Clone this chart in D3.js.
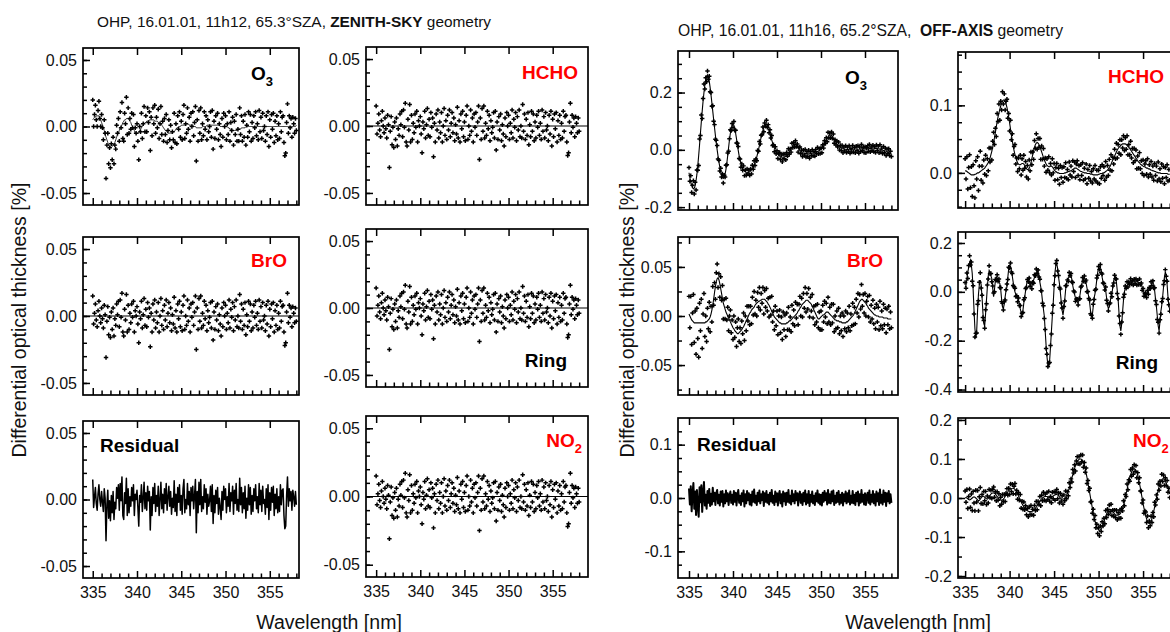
<!DOCTYPE html>
<html><head><meta charset="utf-8">
<script src="https://cdn.jsdelivr.net/npm/d3@7"></script>
<style>
body{margin:0;background:#fff;}
svg{display:block;font-family:"Liberation Sans",Arial,Helvetica,sans-serif;}
</style></head><body>
<svg id="c" width="1170" height="632"></svg>
<script>
// ---------------- DATA ----------------
// Spectral grid: 335.0 nm to 358.0 nm, step 0.1 nm (231 samples)
const WL0 = 335.0, WL_STEP = 0.1, N = 231;
// All spectra below are in thousandths of a percent (divide by SCALE for %)
const SCALE = 1000;

const xMajorTicks = [335, 340, 345, 350, 355];
const xTickLabels = ["335", "340", "345", "350", "355"];
const xMinorTicks = [336,337,338,339,341,342,343,344,346,347,348,349,351,352,353,354,356,357,358];

// ZENITH-SKY fit residual
const zenResidual = [
 15,-6,2,9,-3,-8,4,11,0,-5,
 6,-2,-9,8,1,-31,-4,7,-14,-1,
 -16,3,-10,6,-15,-2,-7,9,1,11,
 -8,12,-1,17,-12,-15,5,-3,16,-12,
 8,-10,2,-5,9,-1,11,-12,4,0,
 7,-6,-20,3,-2,11,-9,1,13,-7,
 5,-8,10,-1,6,-23,2,-12,9,-3,
 12,-9,3,-5,10,-12,0,13,-7,4,
 -10,8,-3,12,-8,2,10,-5,6,-11,
 1,-6,14,-9,4,-12,9,-2,11,-8,
 3,-11,8,15,-10,0,-7,12,-4,6,
 -12,9,-1,10,-7,3,15,-25,6,-10,
 13,-4,15,-9,2,-7,11,-2,8,-11,
 4,-5,-1,10,-9,11,-18,3,-10,7,
 -3,9,-11,1,-6,-15,6,-8,10,0,
 8,-10,2,-5,12,-9,5,-1,10,-11,
 7,-3,12,-8,0,-9,16,-4,9,-10,
 5,-7,10,-14,1,-8,11,-4,9,-11,
 3,-9,8,-1,11,-7,2,-10,12,-4,
 7,-9,10,-3,0,-11,8,-6,11,-15,
 5,-8,9,-2,10,-12,4,-7,8,-10,
 2,-9,11,-4,7,8,-12,-22,-20,3,
 17,-5,8,-1,6,-8,7,2,-5,6,
 -4];

// ZENITH-SKY fitted O3 contribution
const zenFitO3 = [
 5,6,7,7,8,8,8,8,6,5,
 3,1,-1,-3,-6,-8,-10,-12,-14,-15,
 -15,-16,-15,-14,-13,-12,-10,-8,-6,-5,
 -3,-1,0,1,3,4,5,5,6,6,
 6,5,4,3,1,0,-2,-3,-5,-5,
 -5,-5,-5,-3,-2,-1,0,1,2,3,
 3,4,4,4,5,5,5,5,5,5,
 4,4,4,4,3,3,2,2,1,0,
 -1,-2,-3,-3,-4,-5,-5,-5,-5,-5,
 -5,-4,-4,-3,-2,-1,-1,0,0,0,
 1,1,1,1,1,2,2,2,2,1,
 1,1,1,1,0,0,0,-1,-1,-1,
 -1,-1,-1,-1,0,0,0,0,0,1,
 1,1,1,1,1,1,1,1,1,1,
 1,1,1,1,0,0,0,0,0,0,
 0,0,0,-1,-1,-2,-2,-2,-3,-3,
 -3,-3,-3,-3,-2,-2,-2,-2,-1,-1,
 -1,-1,-1,0,0,0,0,0,0,0,
 0,0,0,0,0,0,0,0,0,0,
 0,0,0,0,0,0,0,0,0,0,
 0,0,0,0,0,0,0,0,0,0,
 0,0,0,0,0,0,0,0,0,0,
 0,0,0,0,0,0,0,0,0,0,
 1];

// ZENITH-SKY fitted HCHO / BrO / Ring / NO2 contributions (flat at zero)
const zenFlatWl = [333, 360];
const zenFlatFit = [0, 0];

// OFF-AXIS fit residual
const offResidual = [
 18,-12,22,-25,8,28,-20,12,-32,15,
 -16,-35,20,-8,24,-26,9,30,-14,6,
 -20,13,-9,17,-15,8,-12,19,-6,10,
 -13,9,15,-10,6,-14,12,-7,13,-16,
 7,-10,14,-6,9,-13,4,12,-9,6,
 -12,13,-7,10,-14,6,15,-9,4,-13,
 9,-6,14,-16,7,-10,13,-4,9,-12,
 6,-14,12,-7,16,-9,4,-13,10,-6,
 14,-10,7,-4,12,-15,9,-7,13,-9,
 6,-12,10,-6,15,-9,4,-13,12,-7,
 9,-14,6,13,-10,7,-16,12,-6,9,
 -13,10,-7,15,-9,4,-12,14,-6,7,
 -10,13,-4,9,-14,6,12,-9,7,-13,
 10,-6,14,-12,7,-9,13,-15,6,-7,
 12,-10,4,-13,9,-6,14,-9,7,-12,
 6,-14,10,-7,13,-4,9,-12,15,-9,
 7,-10,12,-6,14,-13,4,-9,10,-7,
 13,-12,6,-9,10,-14,7,-6,12,-10,
 9,-7,14,-12,4,-9,13,-10,6,-13,
 10,-6,12,-14,7,-9,15,-7,6,-12,
 9,-13,4,10,-9,14,-12,6,-7,13,
 -10,7,-14,12,-6,9,-13,16,-9,6,
 -12,14,-7,10,-15,9,-6,13,-10,7,
 -9];

// OFF-AXIS fitted contributions
const offFitO3 = [
 -80,-98,-112,-124,-132,-136,-134,-125,-108,-85,
 -55,-20,18,58,98,135,170,200,226,246,
 258,262,255,240,218,192,164,135,106,78,
 50,24,0,-22,-42,-60,-76,-88,-97,-100,
 -96,-85,-68,-46,-20,8,35,58,76,86,
 90,86,75,58,38,17,-3,-21,-36,-48,
 -58,-65,-70,-74,-77,-79,-80,-80,-79,-77,
 -73,-70,-66,-61,-54,-46,-36,-25,-12,1,
 15,30,44,57,68,78,85,89,90,88,
 82,72,60,47,35,24,14,6,-1,-7,
 -12,-16,-19,-22,-24,-25,-26,-26,-25,-24,
 -22,-19,-15,-11,-6,-1,4,9,14,18,
 20,19,16,11,6,2,-2,-5,-8,-10,
 -11,-12,-13,-13,-14,-14,-14,-14,-13,-13,
 -12,-11,-10,-9,-8,-7,-6,-5,-3,-1,
 1,4,8,13,19,26,33,40,46,50,
 52,52,50,46,41,36,31,26,21,17,
 14,11,9,7,5,4,3,2,2,1,
 1,1,0,0,1,1,2,2,2,3,
 3,3,2,2,3,3,4,4,3,3,
 2,3,3,4,4,5,5,4,4,3,
 4,4,5,5,4,4,3,2,1,0,
 -1,-2,-3,-4,-5,-6,-8,-9,-10,-12,
 -14];

const offFitHCHO = [
 3,3,2,1,0,-1,-2,-3,-3,-3,
 -3,-2,-2,-1,0,0,1,2,3,4,
 5,6,7,9,11,13,15,18,22,27,
 32,38,45,52,60,68,76,83,89,94,
 99,103,106,108,108,106,102,97,90,82,
 74,65,56,48,40,33,27,22,18,15,
 13,12,12,13,14,14,13,11,8,6,
 5,5,7,10,15,21,27,33,38,42,
 44,45,44,42,39,35,31,27,23,19,
 16,13,11,10,9,9,10,10,9,7,
 5,3,2,1,0,0,-1,-1,-1,-1,
 -1,-1,0,0,1,1,2,2,3,3,
 4,5,6,7,7,7,6,5,4,3,
 2,2,1,1,0,0,0,-1,-1,-1,
 -1,-2,-2,-2,-3,-3,-3,-3,-3,-3,
 -2,-2,-1,-1,-1,0,0,1,2,3,
 4,6,8,10,13,16,19,22,25,28,
 31,34,36,38,39,41,42,43,43,43,
 43,42,41,39,38,36,34,32,30,28,
 26,24,22,20,18,16,15,13,12,11,
 10,9,9,8,7,7,6,6,5,4,
 4,3,3,2,2,1,1,0,0,0,
 -1,-1,-1,-1,-1,-1,-1,-1,-2,-2,
 -2];

const offFitBrO = [
 2,0,-2,-4,-5,-6,-7,-7,-7,-7,
 -7,-7,-7,-7,-7,-7,-7,-7,-7,-6,
 -6,-5,-4,-3,-1,2,6,11,17,24,
 30,35,38,39,37,33,28,23,18,13,
 10,7,4,2,0,-2,-4,-6,-8,-10,
 -12,-13,-15,-16,-17,-18,-18,-17,-16,-15,
 -14,-12,-11,-9,-7,-5,-3,-1,1,3,
 4,6,7,8,9,11,12,13,14,15,
 15,16,16,17,17,17,17,16,15,14,
 12,11,9,7,5,3,1,-1,-2,-3,
 -4,-5,-6,-7,-7,-8,-8,-8,-8,-8,
 -8,-7,-7,-6,-5,-5,-4,-3,-2,-1,
 0,1,2,3,5,6,8,9,11,12,
 13,14,15,16,16,16,15,14,13,12,
 10,8,6,4,2,0,-2,-3,-3,-2,
 -1,0,1,1,2,3,4,4,4,3,
 2,1,0,-1,-2,-3,-4,-4,-5,-5,
 -5,-6,-6,-6,-7,-7,-7,-7,-7,-6,
 -6,-5,-4,-3,-2,-1,0,1,3,5,
 7,9,11,13,15,16,17,17,16,15,
 14,13,11,10,8,7,6,5,4,3,
 2,1,1,0,0,0,-1,-1,-1,-1,
 -1,-2,-2,-2,-2,-2,-3,-3,-3,-3,
 -3];

const offFitRing = [
 20,27,55,80,100,120,130,110,75,10,
 -75,-150,-190,-160,-75,-10,30,48,30,-20,
 -85,-130,-140,-90,-34,20,65,88,80,65,
 54,15,-20,10,45,61,58,50,40,34,
 10,-30,-61,-68,-50,-20,5,20,60,95,
 109,105,88,65,40,15,0,-10,-20,-28,
 -34,-50,-70,-85,-95,-75,-45,-20,5,30,
 45,55,45,30,20,22,35,48,60,72,
 80,85,82,65,40,20,-5,-40,-70,-100,
 -160,-220,-265,-300,-306,-280,-224,-160,-100,-48,
 20,80,110,115,95,60,34,0,-40,-75,
 -95,-70,-30,10,35,45,55,65,72,68,
 50,25,7,-10,-25,-35,-42,-45,-35,-15,
 10,30,45,55,58,50,35,15,-5,-20,
 -45,-80,-100,-95,-60,-25,-7,20,50,80,
 98,105,102,85,60,40,25,20,5,-25,
 -55,-68,-62,-40,-20,-7,20,45,58,61,
 40,5,-34,-90,-140,-160,-130,-80,-34,0,
 15,22,27,32,36,40,41,42,40,41,
 42,40,41,42,40,39,38,37,30,18,
 5,-5,-12,-15,-14,-8,2,12,20,28,
 35,38,30,5,-30,-61,-100,-140,-160,-120,
 -80,-55,-20,20,60,82,70,30,-20,-60,
 -70];

const offFitNO2 = [
 0,1,0,-2,-4,-5,-4,-2,0,2,
 3,2,0,-2,-5,-7,-6,-3,0,3,
 5,4,2,0,-2,-3,-1,3,7,10,
 12,13,13,12,10,7,4,1,-2,-4,
 -5,-6,-5,-3,0,4,8,12,16,19,
 21,23,24,25,25,24,22,19,15,10,
 5,0,-5,-10,-15,-19,-23,-26,-29,-31,
 -33,-34,-35,-35,-35,-34,-33,-31,-29,-26,
 -23,-20,-16,-12,-8,-5,-2,0,2,3,
 4,4,4,3,2,1,0,1,3,5,
 7,8,9,9,8,6,3,0,-2,-3,
 -3,-2,0,3,7,12,18,25,33,42,
 51,60,68,76,83,89,94,97,99,100,
 100,99,96,91,84,75,64,52,39,26,
 13,0,-13,-26,-38,-49,-59,-67,-74,-79,
 -82,-83,-82,-79,-74,-68,-61,-54,-47,-41,
 -36,-32,-30,-29,-30,-32,-35,-38,-41,-43,
 -44,-44,-44,-43,-41,-38,-33,-27,-19,-10,
 0,11,22,33,43,52,60,66,71,74,
 75,74,71,66,58,48,37,25,12,-1,
 -14,-26,-37,-46,-54,-60,-64,-65,-64,-60,
 -53,-44,-34,-23,-12,-1,10,20,29,37,
 43,47,49,49,47,43,38,32,25,18,
 10];

// Y tick sets
const yTicksZen   = {major:[-0.05,0,0.05], labels:["-0.05","0.00","0.05"], minor:[-0.05,-0.04,-0.03,-0.02,-0.01,0,0.01,0.02,0.03,0.04,0.05]};
const yTicksO3    = {major:[-0.2,0,0.2], labels:["-0.2","0.0","0.2"], minor:[-0.2,-0.15,-0.1,-0.05,0,0.05,0.1,0.15,0.2,0.25,0.3]};
const yTicksHCHO  = {major:[0,0.1], labels:["0.0","0.1"], minor:[-0.05,-0.025,0,0.025,0.05,0.075,0.1,0.125,0.15,0.175]};
const yTicksBrO   = {major:[-0.05,0,0.05], labels:["-0.05","0.00","0.05"], minor:[-0.075,-0.05,-0.025,0,0.025,0.05,0.075]};
const yTicksRing  = {major:[-0.4,-0.2,0,0.2], labels:["-0.4","-0.2","0.0","0.2"], minor:[-0.4,-0.35,-0.3,-0.25,-0.2,-0.15,-0.1,-0.05,0,0.05,0.1,0.15,0.2]};
const yTicksRes   = {major:[-0.1,0,0.1], labels:["-0.1","0.0","0.1"], minor:[-0.125,-0.1,-0.075,-0.05,-0.025,0,0.025,0.05,0.075,0.1,0.125]};
const yTicksNO2   = {major:[-0.2,-0.1,0,0.1,0.2], labels:["-0.2","-0.1","0.0","0.1","0.2"], minor:[-0.2,-0.15,-0.1,-0.05,0,0.05,0.1,0.15,0.2]};

// ---------------- LAYOUT ----------------
const RED = "#ff0000";
const panels = [
 {id:"zO3",  kind:"points", res:zenResidual, fit:zenFitO3, fitW:0.8, yt:yTicksZen, x0:83, x1:299, y0:48, y1:205, xd:[333.9,358.3], yd:[-0.059,0.059], label:["O","3"], color:"#000", lx:273, ly:80, anchor:"end"},
 {id:"zHCHO",kind:"points", res:zenResidual, fit:null, yt:yTicksZen, x0:366, x1:588, y0:47, y1:205, xd:[333.85,359.0], yd:[-0.059,0.059], label:["HCHO"], color:RED, lx:578, ly:79, anchor:"end"},
 {id:"zBrO", kind:"points", res:zenResidual, fit:null, yt:yTicksZen, x0:83, x1:299, y0:237, y1:395, xd:[333.9,358.3], yd:[-0.059,0.059], label:["BrO"], color:RED, lx:287, ly:267, anchor:"end"},
 {id:"zRing",kind:"points", res:zenResidual, fit:null, yt:yTicksZen, x0:366, x1:588, y0:229, y1:387, xd:[333.85,359.0], yd:[-0.059,0.059], label:["Ring"], color:"#000", lx:567, ly:367, anchor:"end"},
 {id:"zRes", kind:"line", res:zenResidual, fit:null, lw:1.5, yt:yTicksZen, x0:83, x1:299, y0:421, y1:578, xd:[333.9,358.3], yd:[-0.059,0.059], label:["Residual"], color:"#000", lx:100, ly:452, anchor:"start", xlabels:true},
 {id:"zNO2", kind:"points", res:zenResidual, fit:null, yt:yTicksZen, x0:366, x1:588, y0:416, y1:577, xd:[333.85,359.0], yd:[-0.059,0.059], label:["NO","2"], color:RED, lx:582, ly:447, anchor:"end", xlabels:true},

 {id:"oO3",  kind:"points", res:offResidual, fit:offFitO3, yt:yTicksO3, x0:678, x1:898, y0:51, y1:210, xd:[333.75,358.75], yd:[-0.21,0.345], label:["O","3"], color:"#000", lx:867, ly:84, anchor:"end"},
 {id:"oHCHO",kind:"points", res:offResidual, fit:offFitHCHO, yt:yTicksHCHO, x0:958, x1:1180, y0:52, y1:208, xd:[334.2,359.15], yd:[-0.052,0.179], label:["HCHO"], color:RED, lx:1108, ly:83, anchor:"start"},
 {id:"oBrO", kind:"points", res:offResidual, fit:offFitBrO, yt:yTicksBrO, x0:678, x1:898, y0:237, y1:395, xd:[333.75,358.75], yd:[-0.0805,0.0805], label:["BrO"], color:RED, lx:883, ly:267, anchor:"end"},
 {id:"oRing",kind:"points", res:offResidual, fit:offFitRing, yt:yTicksRing, x0:958, x1:1180, y0:232, y1:392, xd:[334.2,359.15], yd:[-0.41,0.245], label:["Ring"], color:"#000", lx:1158, ly:369, anchor:"end"},
 {id:"oRes", kind:"line", res:offResidual, fit:null, lw:2, yt:yTicksRes, x0:678, x1:898, y0:418, y1:578, xd:[333.75,358.75], yd:[-0.15,0.15], label:["Residual"], color:"#000", lx:697, ly:451, anchor:"start", xlabels:true},
 {id:"oNO2", kind:"points", res:offResidual, fit:offFitNO2, yt:yTicksNO2, x0:958, x1:1180, y0:418, y1:578, xd:[334.2,359.15], yd:[-0.205,0.205], label:["NO","2"], color:RED, lx:1133, ly:447, anchor:"start", xlabels:true}
];

// ---------------- DRAW ----------------
const svg = d3.select("#c");
const wl = d3.range(N).map(i => Math.round((WL0 + i * WL_STEP) * 10) / 10);
const sym = d3.symbol().type(d3.symbolCross).size(11);

function styleAxis(sel, fs) {
  sel.select(".domain").remove();
  sel.selectAll(".tick line").attr("stroke", "#000").attr("stroke-width", 1.5);
  sel.selectAll(".tick text").attr("fill", "#111").attr("font-size", fs).attr("font-family", '"Liberation Sans",Arial,sans-serif');
}

panels.forEach(p => {
  const x = d3.scaleLinear().domain(p.xd).range([p.x0, p.x1]);
  const y = d3.scaleLinear().domain(p.yd).range([p.y1, p.y0]);
  const g = svg.append("g").attr("class", "panel-" + p.id);
  const clipId = "clip-" + p.id;
  svg.append("clipPath").attr("id", clipId).append("rect")
    .attr("x", p.x0).attr("y", p.y0).attr("width", p.x1 - p.x0).attr("height", p.y1 - p.y0);
  const plot = g.append("g").attr("clip-path", `url(#${clipId})`);

  const rows = wl.map((w, i) => ({
    w,
    v: (p.res[i] + (p.fit ? p.fit[i] : 0)) / SCALE,
    f: p.fit ? p.fit[i] / SCALE : 0
  }));

  if (p.kind === "line") {
    plot.append("path").datum(rows)
      .attr("d", d3.line().x(d => x(d.w)).y(d => y(d.v)))
      .attr("fill", "none").attr("stroke", "#000").attr("stroke-width", p.lw).attr("stroke-linejoin", "round");
  } else {
    const fitRows = p.fit ? rows.map(d => ({w: d.w, f: d.f})) : zenFlatWl.map((w, i) => ({w, f: zenFlatFit[i]}));
    plot.append("path").datum(fitRows)
      .attr("d", d3.line().x(d => x(d.w)).y(d => y(d.f)))
      .attr("fill", "none").attr("stroke", "#000").attr("stroke-width", p.fitW || 1.1);
    plot.append("g").selectAll("path").data(rows).join("path")
      .attr("transform", d => `translate(${x(d.w).toFixed(2)},${y(d.v).toFixed(2)})`)
      .attr("d", sym).attr("fill", "#000");
  }

  // frame
  g.append("rect").attr("x", p.x0).attr("y", p.y0).attr("width", p.x1 - p.x0).attr("height", p.y1 - p.y0)
    .attr("fill", "none").attr("stroke", "#000").attr("stroke-width", 1.7);

  // y axis
  g.append("g").attr("transform", `translate(${p.x0},0)`)
    .call(d3.axisLeft(y).tickValues(p.yt.minor).tickSize(-4).tickFormat(""))
    .call(s => styleAxis(s, 16));
  g.append("g").attr("transform", `translate(${p.x0},0)`)
    .call(d3.axisLeft(y).tickValues(p.yt.major).tickSizeInner(-7).tickSizeOuter(0).tickPadding(6)
      .tickFormat((d, i) => p.yt.labels[i]))
    .call(s => styleAxis(s, 16));

  // x axes
  g.append("g").attr("transform", `translate(0,${p.y1})`)
    .call(d3.axisBottom(x).tickValues(xMinorTicks).tickSize(-4.5).tickFormat(""))
    .call(s => styleAxis(s, 16));
  g.append("g").attr("transform", `translate(0,${p.y1})`)
    .call(d3.axisBottom(x).tickValues(xMajorTicks).tickSizeInner(-7).tickSizeOuter(0).tickPadding(9)
      .tickFormat((d, i) => p.xlabels ? xTickLabels[i] : ""))
    .call(s => styleAxis(s, 16));
  g.append("g").attr("transform", `translate(0,${p.y0})`)
    .call(d3.axisTop(x).tickValues(xMajorTicks).tickSize(-7).tickFormat(""))
    .call(s => styleAxis(s, 16));

  // species label
  const t = g.append("text").attr("x", p.lx).attr("y", p.ly).attr("text-anchor", p.anchor)
    .attr("font-weight", "bold").attr("font-size", 19).attr("fill", p.color);
  t.append("tspan").text(p.label[0]);
  if (p.label[1]) t.append("tspan").attr("font-size", 13).attr("dy", 6).text(p.label[1]);
});

// titles
function title(xp, yp, fs, parts) {
  const t = svg.append("text").attr("x", xp).attr("y", yp).attr("font-size", fs).attr("fill", "#111");
  parts.forEach(([s, b]) => t.append("tspan").attr("font-weight", b ? "bold" : "normal").text(s));
}
title(97, 27, 15.4, [["OHP, 16.01.01, 11h12, 65.3°SZA, ", false], ["ZENITH-SKY", true], [" geometry", false]]);
title(678, 36, 15.7, [["OHP, 16.01.01, 11h16, 65.2°SZA,\u00a0 ", false], ["OFF-AXIS", true], [" geometry", false]]);

// axis titles
function ytitle(xp, yp) {
  svg.append("text").attr("transform", `translate(${xp},${yp}) rotate(-90)`).attr("text-anchor", "middle")
    .attr("font-size", 19.5).attr("fill", "#111").text("Differential optical thickness [%]");
}
ytitle(26, 320);
ytitle(634, 320);
function xtitle(xp, yp) {
  svg.append("text").attr("x", xp).attr("y", yp).attr("text-anchor", "middle")
    .attr("font-size", 19.5).attr("fill", "#111").text("Wavelength [nm]");
}
xtitle(329, 629);
xtitle(918, 629);
</script>
</body></html>
